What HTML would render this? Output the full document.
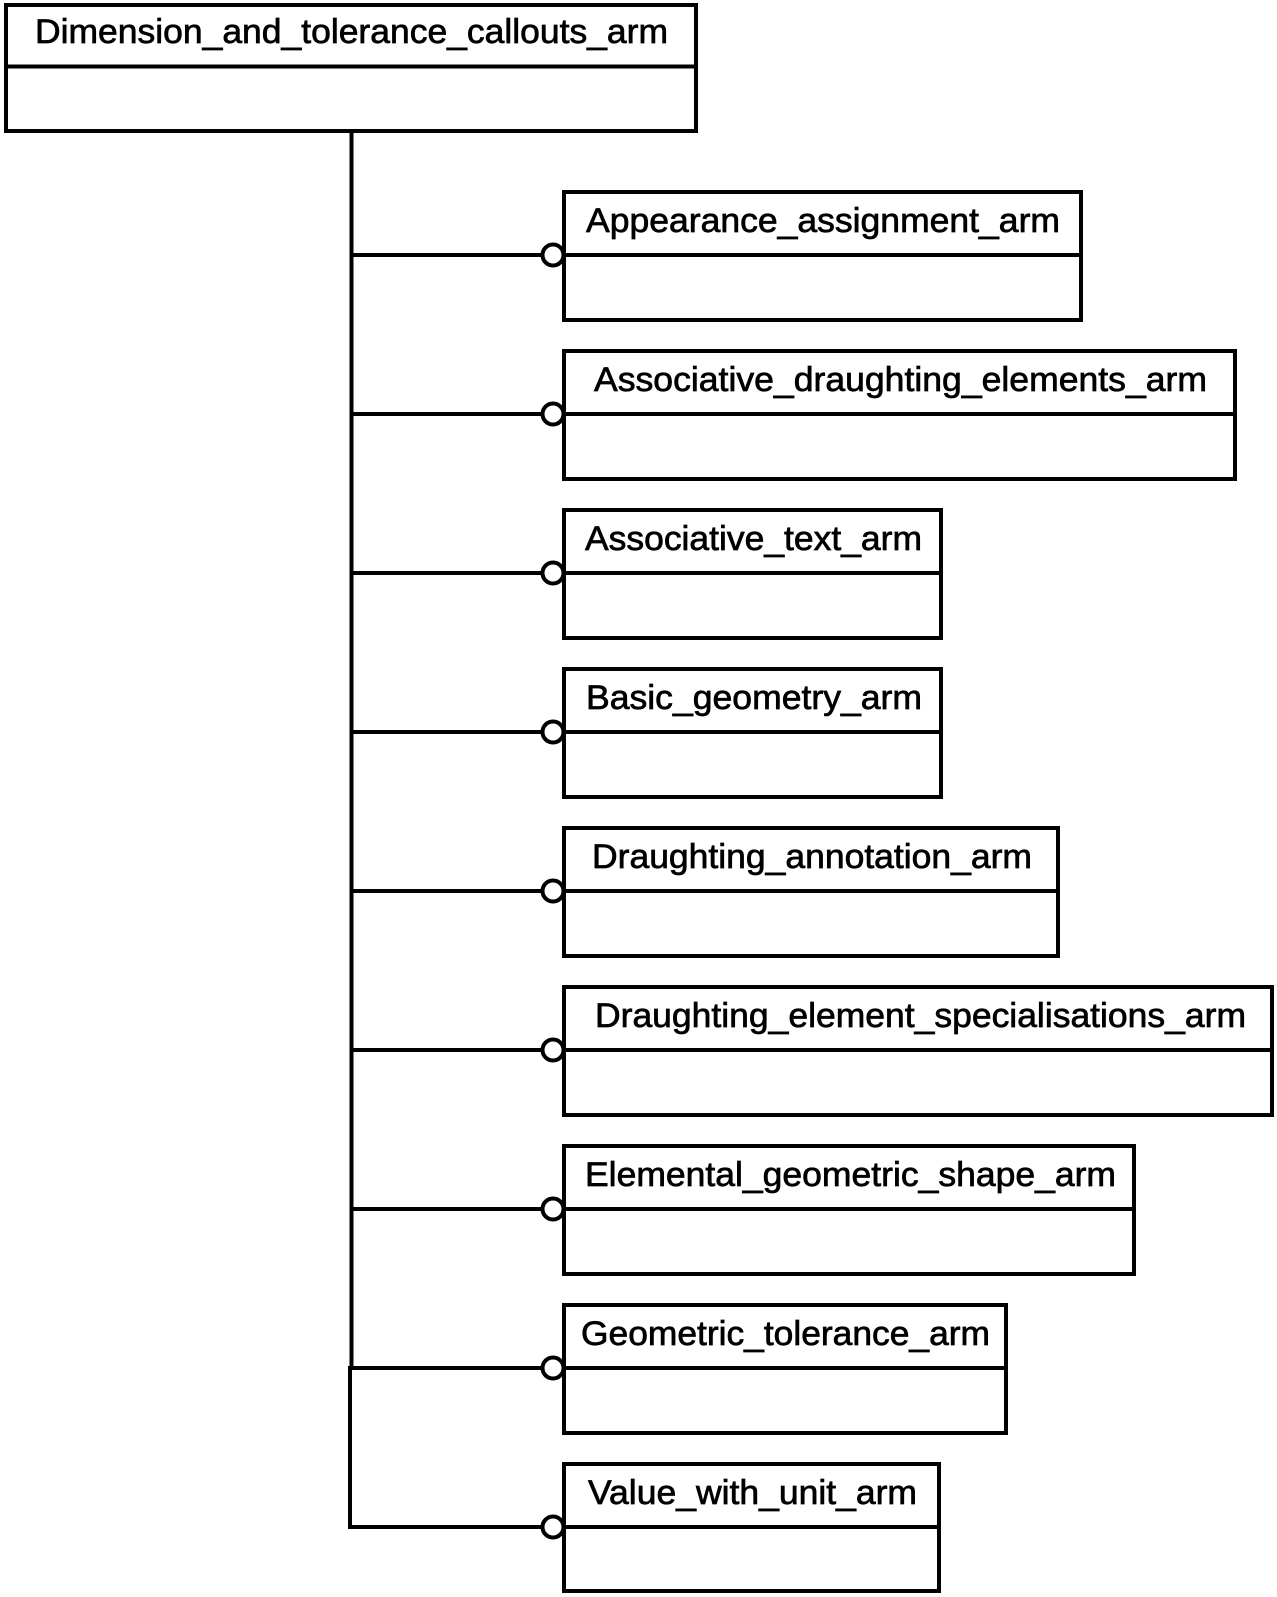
<!DOCTYPE html>
<html>
<head>
<meta charset="utf-8">
<style>
html,body{margin:0;padding:0;background:#fff;}
svg{display:block;}
text{font-family:"Liberation Sans",Arial,sans-serif;font-size:34px;fill:#000;stroke:#000;stroke-width:.7px;}
.b{fill:#fff;stroke:#000;stroke-width:4;}
.l{fill:none;stroke:#000;stroke-width:4;}
.c{fill:#fff;stroke:#000;stroke-width:4;}
</style>
</head>
<body>
<svg xmlns="http://www.w3.org/2000/svg" width="1277" height="1597" viewBox="0 0 1277 1597">
<rect width="1277" height="1597" fill="#fff"/>

<!-- trunk -->
<path class="l" d="M351.500 130V1368"/>
<path class="l" d="M350 1366V1527H553"/>
<path class="l" d="M350 255H553M350 414H553M350 573H553M350 732H553M350 891H553M350 1050H553M350 1209H553M350 1368H553"/>

<!-- parent -->
<rect class="b" x="6" y="5" width="690" height="126"/>
<path class="l" d="M6 66.500H696"/>
<text x="35" y="43" textLength="633" lengthAdjust="spacingAndGlyphs">Dimension_and_tolerance_callouts_arm</text>

<!-- children -->
<rect class="b" x="564" y="192" width="517" height="128"/>
<path class="l" d="M564 255H1081"/>
<text x="586" y="232" textLength="474" lengthAdjust="spacingAndGlyphs">Appearance_assignment_arm</text>

<rect class="b" x="564" y="351" width="671" height="128"/>
<path class="l" d="M564 414H1235"/>
<text x="594" y="391" textLength="613" lengthAdjust="spacingAndGlyphs">Associative_draughting_elements_arm</text>

<rect class="b" x="564" y="510" width="377" height="128"/>
<path class="l" d="M564 573H941"/>
<text x="585" y="550" textLength="337" lengthAdjust="spacingAndGlyphs">Associative_text_arm</text>

<rect class="b" x="564" y="669" width="377" height="128"/>
<path class="l" d="M564 732H941"/>
<text x="586" y="709" textLength="336" lengthAdjust="spacingAndGlyphs">Basic_geometry_arm</text>

<rect class="b" x="564" y="828" width="494" height="128"/>
<path class="l" d="M564 891H1058"/>
<text x="592" y="868" textLength="440" lengthAdjust="spacingAndGlyphs">Draughting_annotation_arm</text>

<rect class="b" x="564" y="987" width="708" height="128"/>
<path class="l" d="M564 1050H1272"/>
<text x="595" y="1027" textLength="651" lengthAdjust="spacingAndGlyphs">Draughting_element_specialisations_arm</text>

<rect class="b" x="564" y="1146" width="570" height="128"/>
<path class="l" d="M564 1209H1134"/>
<text x="585" y="1186" textLength="531" lengthAdjust="spacingAndGlyphs">Elemental_geometric_shape_arm</text>

<rect class="b" x="564" y="1305" width="442" height="128"/>
<path class="l" d="M564 1368H1006"/>
<text x="581" y="1345" textLength="409" lengthAdjust="spacingAndGlyphs">Geometric_tolerance_arm</text>

<rect class="b" x="564" y="1464" width="375" height="127"/>
<path class="l" d="M564 1527H939"/>
<text x="588" y="1504" textLength="329" lengthAdjust="spacingAndGlyphs">Value_with_unit_arm</text>

<!-- circles -->
<circle class="c" cx="553" cy="255" r="10.500"/>
<circle class="c" cx="553" cy="414" r="10.500"/>
<circle class="c" cx="553" cy="573" r="10.500"/>
<circle class="c" cx="553" cy="732" r="10.500"/>
<circle class="c" cx="553" cy="891" r="10.500"/>
<circle class="c" cx="553" cy="1050" r="10.500"/>
<circle class="c" cx="553" cy="1209" r="10.500"/>
<circle class="c" cx="553" cy="1368" r="10.500"/>
<circle class="c" cx="553" cy="1527" r="10.500"/>
</svg>
</body>
</html>
